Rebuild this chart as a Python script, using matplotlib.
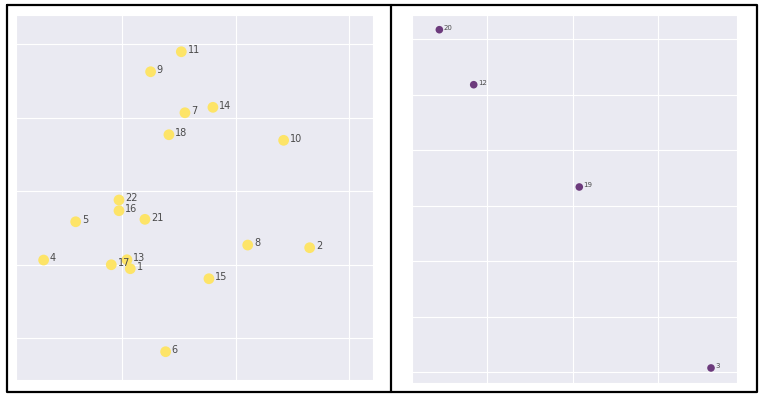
import matplotlib
matplotlib.use('Agg')
import matplotlib.pyplot as plt
from matplotlib.lines import Line2D
import seaborn as sns

sns.set_style('darkgrid')

# left panel: yellow cluster
left_ids = ['11', '9', '7', '14', '18', '10', '22', '16', '5', '21',
            '8', '2', '4', '17', '13', '1', '15', '6']
left_x = [0.522, 0.252, 0.554, 0.800, 0.413, 1.422, -0.026, -0.026, -0.407, 0.202,
          1.106, 1.651, -0.689, -0.094, 0.044, 0.073, 0.765, 0.384]
left_y = [1.895, 1.623, 1.065, 1.139, 0.766, 0.690, -0.122, -0.268, -0.418, -0.385,
          -0.735, -0.771, -0.939, -1.003, -0.935, -1.057, -1.193, -2.186]

# right panel: purple cluster
right_ids = ['20', '12', '19', '3']
right_x = [-1.560, -1.158, 0.077, 1.618]
right_y = [3.171, 2.180, 0.337, -2.924]

W, H = 764, 399
fig = plt.figure(figsize=(W / 100, H / 100), dpi=100)


def px_axes(x0, y0, x1, y1):
    return fig.add_axes([x0 / W, 1 - y1 / H, (x1 - x0) / W, (y1 - y0) / H])


ax1 = px_axes(16, 15, 373, 380)
ax1.scatter(left_x, left_y, s=60, color='#fde468', edgecolors='none', zorder=3)
for lab, x, y in zip(left_ids, left_x, left_y):
    ax1.annotate(lab, (x, y), xytext=(4.5, -1), textcoords='offset points',
                 fontsize=7, color='#4a4a4a')
ax1.set_xlim(-0.932, 2.208)
ax1.set_ylim(-2.571, 2.395)
ax1.set_xticks([0, 1, 2])
ax1.set_yticks([-2, -1, 0, 1, 2])
ax1.tick_params(labelbottom=False, labelleft=False, length=0)

ax2 = px_axes(412, 15, 737, 383)
ax2.scatter(right_x, right_y, s=30, color='#6c3a7c', edgecolors='none', zorder=3)
for lab, x, y in zip(right_ids, right_x, right_y):
    ax2.annotate(lab, (x, y), xytext=(3, 0), textcoords='offset points',
                 fontsize=5, color='#4a4a4a')
ax2.set_xlim(-1.880, 1.922)
ax2.set_ylim(-3.195, 3.436)
ax2.set_xticks([-1, 0, 1])
ax2.set_yticks([-3, -2, -1, 0, 1, 2, 3])
ax2.tick_params(labelbottom=False, labelleft=False, length=0)

# black frames round the two panels
def fline(xs, ys):
    fig.add_artist(Line2D([x / W for x in xs], [1 - y / H for y in ys],
                          color='black', lw=1.6, transform=fig.transFigure))

fline([7, 757, 757, 7, 7], [5, 5, 392, 392, 5])
fline([391, 391], [5, 392])

fig.savefig('out.png', dpi=100)
